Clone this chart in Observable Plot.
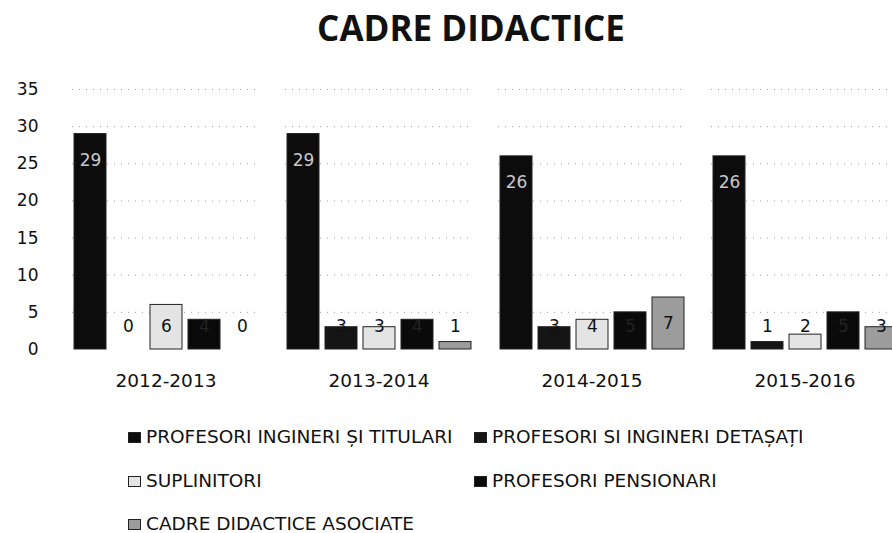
<!DOCTYPE html>
<html>
<head>
<meta charset="utf-8">
<script src="https://cdn.jsdelivr.net/npm/d3@7"></script>
<script src="https://cdn.jsdelivr.net/npm/@observablehq/plot@0.6"></script>
<style>
  body { margin: 0; background: #fff; font-family: "DejaVu Sans", sans-serif; color: #111; }
  #page { width: 892px; height: 533px; overflow: hidden; position: relative; }
  #title { height: 66px; line-height: 56px; text-align: center; font-family: "Open Sans", sans-serif; font-weight: 700; font-size: 35px; padding-left: 50px; box-sizing: border-box; }
  #chart { width: 892px; height: 354px; overflow: hidden; }
  #chart svg { display: block; max-width: none !important; }
  #legend { margin-top: -5px; display: grid; grid-template-columns: 346px 400px; grid-template-rows: 44px 44px 31px; padding-left: 128px; font-size: 18.5px; }
  .item { height: 44px; line-height: 44px; white-space: nowrap; display: flex; align-items: center; }
  .item.last { height: 20px; line-height: 20px; margin-top: 11px; }
  .sw { width: 13px; height: 11px; margin-right: 5px; box-sizing: border-box; border: 1px solid #222; flex: none; }
</style>
</head>
<body>
<div id="page">
  <div id="title">CADRE DIDACTICE</div>
  <div id="chart"></div>
  <div id="legend"></div>
</div>
<script>
const years = ["2012-2013", "2013-2014", "2014-2015", "2015-2016"];
const series = [
  "PROFESORI INGINERI ȘI TITULARI",
  "PROFESORI SI INGINERI DETAȘAȚI",
  "SUPLINITORI",
  "PROFESORI PENSIONARI",
  "CADRE DIDACTICE ASOCIATE"
];
const titulari    = [29, 29, 26, 26];
const detasati    = [0, 3, 3, 1];
const suplinitori = [6, 3, 4, 2];
const pensionari  = [4, 4, 5, 5];
const asociate    = [0, 1, 7, 3];
const yTicks = [0, 5, 10, 15, 20, 25, 30, 35];

const colors = ["#0c0c0c", "#151515", "#e4e4e4", "#0a0a0a", "#9c9c9c"];
const labelColors = ["#c8c8c8", "#111", "#111", "#222", "#111"];

const valuesBySeries = [titulari, detasati, suplinitori, pensionari, asociate];
const data = years.flatMap((yr, i) => series.map((s, j) => ({year: yr, series: s, value: valuesBySeries[j][i], idx: j})));

const chart = Plot.plot({
  width: 912,
  height: 354,
  marginLeft: 58,
  marginRight: 0,
  marginTop: 23,
  marginBottom: 71,
  style: {fontFamily: "DejaVu Sans", fontSize: "17px", color: "#111", background: "white", maxWidth: "none"},
  fx: {domain: years, range: [58, 912], paddingInner: 0.12, paddingOuter: 0.0615, label: null},
  x: {domain: series, paddingInner: 0.16, paddingOuter: 0.04, axis: null},
  y: {domain: [0, 35], label: null},
  color: {domain: series, range: colors},
  marks: [
    Plot.gridY(yTicks.slice(1), {stroke: "#888", strokeOpacity: 0.8, strokeDasharray: "1,6"}),
    Plot.axisY(yTicks, {tickSize: 0, tickPadding: 34, fontSize: 17, label: null}),
    Plot.axisFx({anchor: "bottom", tickSize: 0, tickPadding: 24, fontSize: 18.5, label: null}),
    Plot.barY(data.filter(d => d.value > 0), {fx: "year", x: "series", y: "value", fill: "series", stroke: "#222", strokeWidth: 1}),
    Plot.text(data, {
      fx: "year", x: "series",
      y: d => Math.max(d.value - 3.5, 3.1),
      text: d => String(d.value),
      fill: d => labelColors[d.idx],
      fontSize: 17
    })
  ]
});
document.getElementById("chart").appendChild(chart);

const legend = document.getElementById("legend");
[0, 1, 2, 3, 4].forEach(j => {
  const item = document.createElement("div");
  item.className = j === 4 ? "item last" : "item";
  const sw = document.createElement("span");
  sw.className = "sw";
  sw.style.background = colors[j];
  item.appendChild(sw);
  item.appendChild(document.createTextNode(series[j]));
  legend.appendChild(item);
});
</script>
</body>
</html>
